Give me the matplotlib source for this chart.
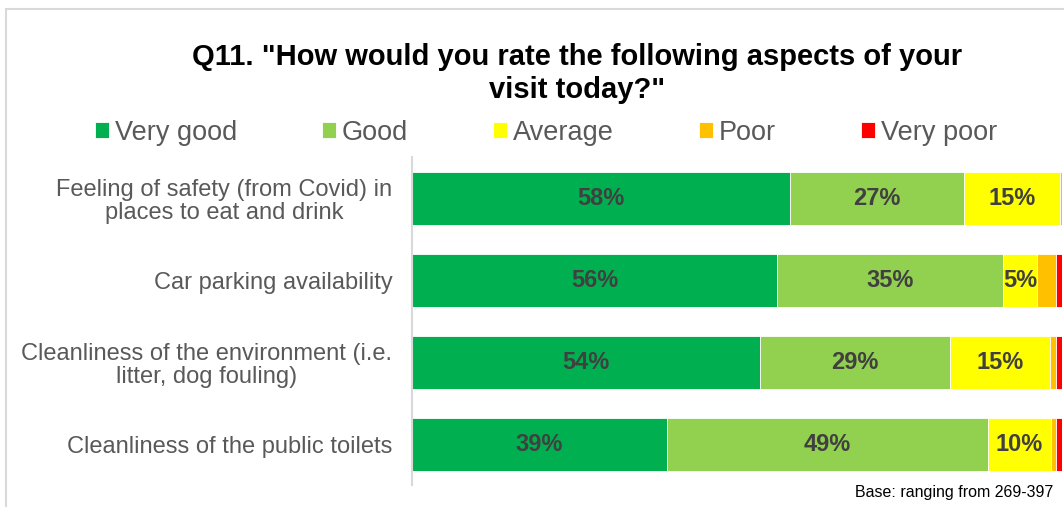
import matplotlib.pyplot as plt
from matplotlib.patches import Rectangle

plt.rcParams['font.family'] = ['Liberation Sans', 'DejaVu Sans']

aspects = ['Feeling of safety (from Covid) in\nplaces to eat and drink',
           'Car parking availability',
           'Cleanliness of the environment (i.e.\nlitter, dog fouling)',
           'Cleanliness of the public toilets']
ratings = ['Very good', 'Good', 'Average', 'Poor', 'Very poor']
very_good = [58.2, 56.2, 53.6, 39.2]
good = [26.8, 34.8, 29.2, 49.4]
average = [14.7, 5.2, 15.4, 9.7]
poor = [0.3, 2.9, 0.9, 0.8]
very_poor = [0.0, 0.9, 0.9, 0.9]
colors = ['#00B050', '#92D050', '#FFFF00', '#FFC000', '#FF0000']

series = [very_good, good, average, poor, very_poor]

fig = plt.figure(figsize=(10.64, 5.07), dpi=100)
ax = fig.add_axes([0.387, 0.043, 0.611, 0.647])

ypos = list(range(len(aspects)))
left = [0.0] * len(aspects)
for name, vals, col in zip(ratings, series, colors):
    bars = ax.barh(ypos, vals, left=left, height=0.65, color=col,
                   edgecolor='white', linewidth=0.6, label=name)
    for b, v, l in zip(bars, vals, left):
        if v >= 5:
            ax.text(l + v / 2, b.get_y() + b.get_height() / 2, f'{v:.0f}%',
                    ha='center', va='center', fontsize=17, fontweight='bold',
                    color='#404040')
    left = [a + b for a, b in zip(left, vals)]

ax.set_xlim(0, 100)
ax.set_ylim(len(aspects) - 0.5, -0.5)
ax.set_yticks(ypos)
ax.set_yticklabels(aspects, fontsize=17, color='#595959',
                   multialignment='center', linespacing=1.05)
ax.tick_params(axis='y', length=0, pad=14)
ax.set_xticks([])
for s in ['top', 'right', 'bottom']:
    ax.spines[s].set_visible(False)
ax.spines['left'].set_color('#D9D9D9')
ax.spines['left'].set_linewidth(1.5)

fig.text(0.542, 0.855, 'Q11. "How would you rate the following aspects of your\nvisit today?"',
         ha='center', va='center', fontsize=21, fontweight='bold', linespacing=1.2)

leg = ax.legend(loc='center', bbox_to_anchor=(0.513, 0.738), bbox_transform=fig.transFigure,
                ncol=5, frameon=False, fontsize=19.5, handlelength=0.52, handleheight=0.52,
                handletextpad=0.22, columnspacing=3.13, borderpad=0)
for t in leg.get_texts():
    t.set_color('#595959')

fig.text(0.99, 0.028, 'Base: ranging from 269-397', ha='right', va='center', fontsize=11.5)

fig.patches.append(Rectangle((0.006, -0.1), 1.1, 1.083, transform=fig.transFigure,
                             fill=False, edgecolor='#D9D9D9', linewidth=1.5))

fig.savefig('out.png', dpi=100)
